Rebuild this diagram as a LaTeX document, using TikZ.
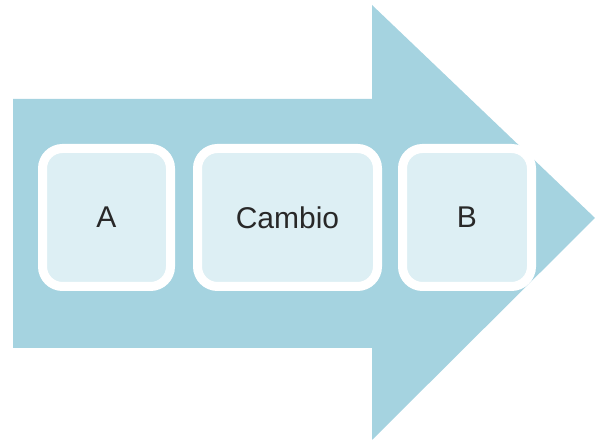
\documentclass[tikz,border=0pt]{standalone}
\usepackage{fontspec}
\setmainfont{Liberation Sans}
\usepackage{tikz}
\usetikzlibrary{positioning}
\definecolor{arrowblue}{RGB}{165,211,224}
\definecolor{boxblue}{RGB}{221,239,244}
\definecolor{textgray}{RGB}{40,40,40}

\begin{document}
\begin{tikzpicture}[x=1pt,y=1pt,
  stage/.style={draw=white, line width=9pt, fill=boxblue, rounded corners=20pt,
    minimum height=138pt, inner sep=0pt, text=textgray,
    font=\fontsize{30}{33}\selectfont}]
\useasboundingbox (0,0) rectangle (595,443);
% big arrow
\fill[arrowblue] (13,95) -- (13,344) -- (372,344) -- (372,438) -- (595,225)
  -- (372,3) -- (372,95) -- cycle;
% stages
\node[stage, minimum width=128pt] (a) at (106.5,225.5) {A};
\node[stage, minimum width=180pt, right=18pt of a] (cambio) {Cambio};
\node[stage, minimum width=129pt, right=16pt of cambio] (b) {B};
\end{tikzpicture}
\end{document}
